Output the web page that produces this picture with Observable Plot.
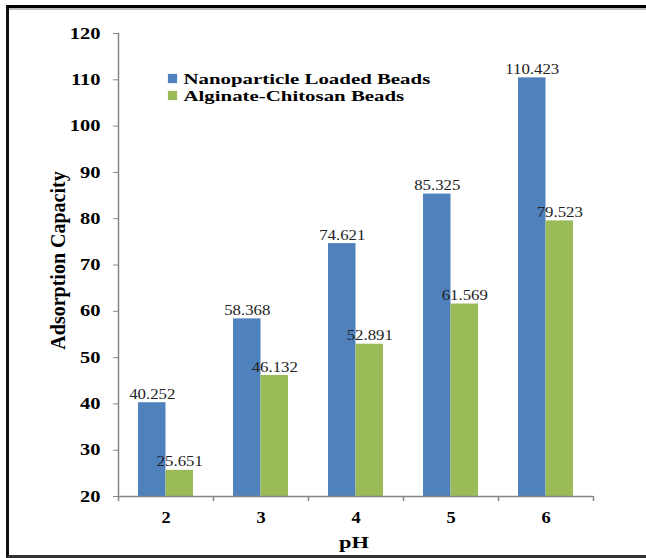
<!DOCTYPE html>
<html><head><meta charset="utf-8">
<script src="https://cdn.jsdelivr.net/npm/d3@7"></script>
<script src="https://cdn.jsdelivr.net/npm/@observablehq/plot@0.6"></script>
<style>
html,body{margin:0;padding:0;background:#fff;}
#wrap{position:relative;width:646px;height:558px;overflow:hidden;background:#fff;}
#frame{position:absolute;left:6px;top:5px;width:640px;height:553px;box-sizing:border-box;border-top:3px solid #000;border-left:3px solid #111;border-bottom:3px solid #333;box-shadow: inset 0 2px 0 #bbb;pointer-events:none;}
</style></head><body><div id="wrap"><div id="frame"></div></div>
<script>
const pH = ["2", "3", "4", "5", "6"];
const nanoparticle = [40.252, 58.368, 74.621, 85.325, 110.423];
const alginate = [25.651, 46.132, 52.891, 61.569, 79.523];
const seriesNames = ["Nanoparticle Loaded Beads", "Alginate-Chitosan Beads"];
const colors = ["#4F81BD", "#9BBB59"];
const yTicks = [20, 30, 40, 50, 60, 70, 80, 90, 100, 110, 120];

const W = 646, H = 558, ml = 118, mr = 53, mt = 33, mb = 62;
const band = (W - ml - mr) / pH.length;
const barW = 27.5;
const c = band / 2;
const yMin = yTicks[0], yMax = yTicks[yTicks.length - 1];
const nanoRows = pH.map((p, i) => ({pH: p, value: nanoparticle[i]}));
const algRows = pH.map((p, i) => ({pH: p, value: alginate[i]}));
const serif = "'Liberation Serif','Times New Roman',serif";
const axisGray = "#868686";

const legendMarks = seriesNames.flatMap((name, i) => [
  Plot.dot([name], {frameAnchor: "top-left", dx: 54, dy: 45 + 17 * i, symbol: "square", r: 5.2, fill: colors[i], stroke: null}),
  Plot.text([name], {frameAnchor: "top-left", dx: 65, dy: 45.5 + 17 * i, text: d => d, textAnchor: "start", lineAnchor: "middle", fontSize: 15, fontWeight: "bold", fill: "#000", ariaDescription: "legend"})
]);

const chart = Plot.plot({
  width: W, height: H,
  marginLeft: ml, marginRight: mr, marginTop: mt, marginBottom: mb,
  style: {fontFamily: serif, background: "transparent"},
  x: {type: "band", domain: pH, padding: 0},
  y: {domain: [yMin, yMax]},
  marks: [
    Plot.barY(nanoRows, {x: "pH", y1: () => yMin, y2: "value", fill: colors[0], insetLeft: c - barW, insetRight: c}),
    Plot.barY(algRows, {x: "pH", y1: () => yMin, y2: "value", fill: colors[1], insetLeft: c, insetRight: c - barW}),
    Plot.text(nanoRows, {x: "pH", y: "value", text: d => d.value.toFixed(3), dx: -barW / 2, dy: -4, lineAnchor: "bottom", fontSize: 14, fill: "#222", ariaDescription: "values"}),
    Plot.text(algRows, {x: "pH", y: "value", text: d => d.value.toFixed(3), dx: barW / 2, dy: -4, lineAnchor: "bottom", fontSize: 14, fill: "#222", ariaDescription: "values"}),
    Plot.ruleY([yMin], {stroke: axisGray, strokeWidth: 1.5}),
    Plot.frame({anchor: "left", stroke: axisGray, strokeWidth: 1.5}),
    Plot.ruleX(pH, {x: d => d, y1: () => yMin, y2: () => yMin, insetBottom: -5, dx: -band / 2, stroke: axisGray, strokeWidth: 1.5}),
    Plot.ruleX([pH[pH.length - 1]], {x: d => d, y1: () => yMin, y2: () => yMin, insetBottom: -5, dx: band / 2, stroke: axisGray, strokeWidth: 1.5}),
    Plot.axisY({ticks: yTicks, tickSize: 5, tickPadding: 13, fontSize: 16, fontWeight: "bold", label: null, stroke: axisGray, fill: "#000"}),
    Plot.axisX({tickSize: 0, tickPadding: 15, fontSize: 16, fontWeight: "bold", label: null, fill: "#000"}),
    Plot.text(["Adsorption Capacity"], {frameAnchor: "left", dx: -60, dy: -4.5, rotate: -90, text: d => d, textAnchor: "middle", fontSize: 20, fontWeight: "bold", fill: "#000", lineAnchor: "middle"}),
    Plot.text(["pH"], {frameAnchor: "bottom", dx: -2, dy: 46, text: d => d, textAnchor: "middle", fontSize: 16, fontWeight: "bold", fill: "#000", lineAnchor: "middle", ariaDescription: "xlabel"}),
    ...legendMarks
  ]
});

const wrap = document.getElementById("wrap");
chart.style.position = "absolute";
chart.style.left = "0px";
chart.style.top = "0px";
wrap.insertBefore(chart, wrap.firstChild);

function stretch(sel, factor) {
  chart.querySelectorAll(sel).forEach(t => {
    const L = t.getComputedTextLength();
    t.setAttribute("textLength", (L * factor).toFixed(2));
    t.setAttribute("lengthAdjust", "spacingAndGlyphs");
  });
}
stretch('g[aria-label="y-axis tick label"] text', 1.28);
stretch('g[aria-label="x-axis tick label"] text', 1.15);
stretch('g[aria-description="values"] text', 1.2);
stretch('g[aria-description="legend"] text', 1.39);
stretch('g[aria-description="xlabel"] text', 1.4);
</script></body></html>
